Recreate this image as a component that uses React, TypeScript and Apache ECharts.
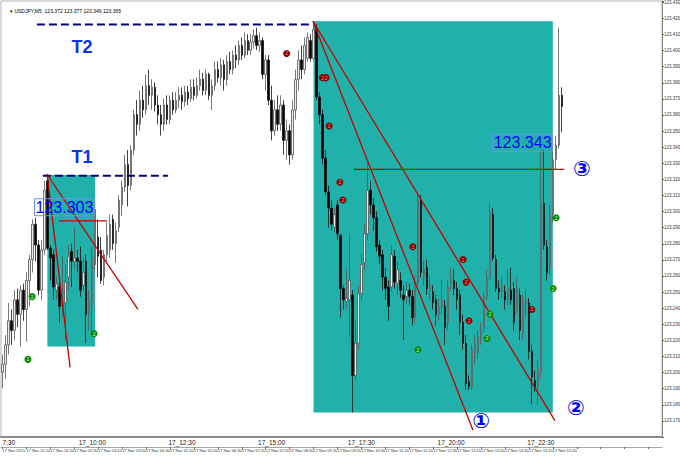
import React, { useEffect, useRef } from 'react';
import * as echarts from 'echarts';

const SLOTS = 221;
const Y_MIN = 123.1598;
const Y_MAX = 123.4306;

const header = '\u25BE USDJPY,M5  123.372 123.377 123.349 123.365';
const lastClose = 123.365;

const bigTimeLabels = ['7:30', '17_10:00', '17_12:30', '17_15:00', '17_17:30', '17_20:00', '17_22:30'];
const smallTimeLabels = [
  '17 Nov 2015', '17 Nov 01:10', '17 Nov 01:50', '17 Nov 02:30', '17 Nov 03:10', '17 Nov 03:50',
  '17 Nov 04:30', '17 Nov 05:10', '17 Nov 05:50', '17 Nov 06:30', '17 Nov 07:10', '17 Nov 07:50',
  '17 Nov 08:30', '17 Nov 09:10', '17 Nov 09:50', '17 Nov 10:30', '17 Nov 11:10', '17 Nov 11:50',
  '17 Nov 12:30', '17 Nov 13:10', '17 Nov 13:50', '17 Nov 14:30', '17 Nov 15:10', '17 Nov 15:50',
];

// [open, close, low, high]
const candles: number[][] = [
  [123.200, 123.205, 123.190, 123.211], [123.205, 123.217, 123.196, 123.223], [123.217, 123.232, 123.211, 123.243],
  [123.232, 123.226, 123.217, 123.239], [123.226, 123.245, 123.220, 123.251], [123.245, 123.236, 123.228, 123.252],
  [123.236, 123.251, 123.216, 123.254], [123.251, 123.239, 123.232, 123.255], [123.239, 123.257, 123.219, 123.262],
  [123.257, 123.270, 123.241, 123.273], [123.270, 123.292, 123.262, 123.295], [123.292, 123.279, 123.269, 123.296],
  [123.279, 123.251, 123.248, 123.282], [123.251, 123.276, 123.245, 123.282], [123.276, 123.313, 123.273, 123.319],
  [123.319, 123.277, 123.276, 123.323], [123.277, 123.271, 123.257, 123.279], [123.273, 123.253, 123.245, 123.276],
  [123.251, 123.255, 123.245, 123.259], [123.253, 123.241, 123.231, 123.257], [123.241, 123.244, 123.234, 123.272],
  [123.243, 123.256, 123.220, 123.267], [123.259, 123.272, 123.251, 123.279], [123.275, 123.269, 123.253, 123.280],
  [123.269, 123.271, 123.264, 123.290], [123.271, 123.269, 123.262, 123.276], [123.269, 123.251, 123.247, 123.278],
  [123.254, 123.262, 123.251, 123.271], [123.269, 123.236, 123.218, 123.273], [123.236, 123.245, 123.226, 123.251],
  [123.241, 123.271, 123.222, 123.278], [123.267, 123.301, 123.264, 123.304], [123.284, 123.272, 123.259, 123.295],
  [123.276, 123.257, 123.255, 123.284], [123.259, 123.273, 123.254, 123.276], [123.273, 123.285, 123.269, 123.293],
  [123.276, 123.292, 123.271, 123.298], [123.295, 123.280, 123.276, 123.298], [123.280, 123.288, 123.268, 123.293],
  [123.290, 123.307, 123.287, 123.310], [123.304, 123.315, 123.297, 123.319], [123.315, 123.329, 123.312, 123.335],
  [123.329, 123.316, 123.303, 123.338], [123.316, 123.338, 123.313, 123.341], [123.338, 123.360, 123.335, 123.363],
  [123.360, 123.354, 123.347, 123.369], [123.354, 123.369, 123.350, 123.375], [123.369, 123.363, 123.358, 123.378],
  [123.363, 123.378, 123.360, 123.385], [123.378, 123.372, 123.366, 123.388], [123.372, 123.377, 123.363, 123.382],
  [123.377, 123.366, 123.362, 123.380], [123.366, 123.360, 123.354, 123.372], [123.360, 123.354, 123.347, 123.366],
  [123.354, 123.366, 123.350, 123.370], [123.366, 123.357, 123.354, 123.372], [123.357, 123.369, 123.354, 123.372],
  [123.369, 123.363, 123.360, 123.374], [123.363, 123.369, 123.361, 123.374], [123.369, 123.372, 123.364, 123.377],
  [123.372, 123.368, 123.363, 123.377], [123.368, 123.374, 123.365, 123.378], [123.374, 123.370, 123.366, 123.378],
  [123.370, 123.377, 123.368, 123.382], [123.377, 123.372, 123.369, 123.382], [123.372, 123.378, 123.370, 123.383],
  [123.378, 123.382, 123.375, 123.388], [123.382, 123.375, 123.372, 123.386], [123.375, 123.385, 123.372, 123.388],
  [123.385, 123.372, 123.369, 123.386], [123.372, 123.378, 123.363, 123.382], [123.378, 123.388, 123.375, 123.393],
  [123.388, 123.383, 123.380, 123.393], [123.383, 123.391, 123.378, 123.395], [123.391, 123.382, 123.375, 123.394],
  [123.382, 123.393, 123.378, 123.397], [123.393, 123.388, 123.385, 123.399], [123.388, 123.397, 123.385, 123.400],
  [123.397, 123.394, 123.389, 123.403], [123.394, 123.403, 123.391, 123.406], [123.403, 123.397, 123.394, 123.408],
  [123.397, 123.406, 123.395, 123.411], [123.406, 123.400, 123.397, 123.410], [123.400, 123.405, 123.397, 123.410],
  [123.405, 123.409, 123.401, 123.413], [123.409, 123.403, 123.400, 123.414], [123.403, 123.406, 123.399, 123.411],
  [123.406, 123.385, 123.382, 123.408], [123.385, 123.394, 123.375, 123.397], [123.394, 123.369, 123.366, 123.397],
  [123.369, 123.350, 123.344, 123.378], [123.350, 123.363, 123.347, 123.369], [123.363, 123.354, 123.350, 123.372],
  [123.354, 123.366, 123.350, 123.372], [123.366, 123.344, 123.335, 123.369], [123.344, 123.350, 123.332, 123.357],
  [123.350, 123.335, 123.329, 123.354], [123.335, 123.363, 123.332, 123.369], [123.363, 123.382, 123.357, 123.388],
  [123.382, 123.394, 123.375, 123.400], [123.394, 123.388, 123.382, 123.403], [123.388, 123.403, 123.385, 123.408],
  [123.395, 123.408, 123.393, 123.411], [123.406, 123.395, 123.393, 123.410], [123.395, 123.413, 123.394, 123.418],
  [123.413, 123.371, 123.369, 123.416], [123.371, 123.360, 123.354, 123.374], [123.360, 123.333, 123.329, 123.363],
  [123.333, 123.312, 123.310, 123.338], [123.312, 123.302, 123.290, 123.316], [123.302, 123.292, 123.288, 123.307],
  [123.290, 123.298, 123.287, 123.302], [123.304, 123.286, 123.282, 123.307], [123.285, 123.252, 123.234, 123.286],
  [123.252, 123.245, 123.239, 123.254], [123.244, 123.246, 123.239, 123.264], [123.245, 123.257, 123.222, 123.286],
  [123.248, 123.198, 123.175, 123.251], [123.198, 123.218, 123.195, 123.232], [123.218, 123.249, 123.214, 123.254],
  [123.249, 123.267, 123.245, 123.273], [123.268, 123.286, 123.264, 123.292], [123.286, 123.313, 123.282, 123.330],
  [123.313, 123.304, 123.298, 123.319], [123.304, 123.296, 123.288, 123.308], [123.296, 123.278, 123.275, 123.300],
  [123.279, 123.272, 123.267, 123.282], [123.273, 123.259, 123.251, 123.276], [123.259, 123.252, 123.245, 123.265],
  [123.253, 123.241, 123.232, 123.257], [123.253, 123.273, 123.250, 123.279], [123.272, 123.256, 123.252, 123.276],
  [123.255, 123.264, 123.248, 123.269], [123.257, 123.251, 123.246, 123.262], [123.248, 123.245, 123.220, 123.254],
  [123.247, 123.251, 123.242, 123.256], [123.251, 123.247, 123.242, 123.255], [123.247, 123.234, 123.229, 123.251],
  [123.234, 123.256, 123.231, 123.260], [123.256, 123.307, 123.254, 123.310], [123.307, 123.262, 123.259, 123.310],
  [123.259, 123.264, 123.254, 123.269], [123.265, 123.252, 123.248, 123.270], [123.251, 123.255, 123.245, 123.260],
  [123.250, 123.243, 123.239, 123.254], [123.245, 123.236, 123.229, 123.248], [123.236, 123.241, 123.232, 123.246],
  [123.241, 123.245, 123.236, 123.257], [123.241, 123.228, 123.217, 123.245], [123.231, 123.253, 123.226, 123.257],
  [123.255, 123.259, 123.251, 123.265], [123.257, 123.252, 123.248, 123.264], [123.252, 123.245, 123.239, 123.256],
  [123.248, 123.231, 123.223, 123.251], [123.231, 123.218, 123.214, 123.236], [123.218, 123.193, 123.189, 123.223],
  [123.194, 123.191, 123.189, 123.198], [123.191, 123.214, 123.189, 123.217], [123.212, 123.218, 123.205, 123.223],
  [123.212, 123.222, 123.208, 123.226], [123.221, 123.226, 123.217, 123.231], [123.228, 123.247, 123.225, 123.250],
  [123.247, 123.259, 123.245, 123.264], [123.259, 123.300, 123.257, 123.305], [123.298, 123.271, 123.269, 123.302],
  [123.270, 123.252, 123.250, 123.273], [123.252, 123.250, 123.245, 123.257], [123.250, 123.254, 123.246, 123.259],
  [123.250, 123.245, 123.239, 123.254], [123.245, 123.252, 123.242, 123.264], [123.251, 123.245, 123.242, 123.265],
  [123.252, 123.231, 123.226, 123.256], [123.239, 123.252, 123.236, 123.259], [123.248, 123.226, 123.220, 123.252],
  [123.224, 123.245, 123.220, 123.248], [123.242, 123.245, 123.234, 123.251], [123.243, 123.213, 123.208, 123.246],
  [123.213, 123.197, 123.180, 123.217], [123.195, 123.191, 123.188, 123.201], [123.191, 123.203, 123.180, 123.208],
  [123.200, 123.305, 123.196, 123.338], [123.305, 123.279, 123.276, 123.338], [123.278, 123.262, 123.257, 123.282],
  [123.264, 123.298, 123.260, 123.304], [123.298, 123.332, 123.293, 123.338], [123.332, 123.341, 123.326, 123.347],
  [123.341, 123.372, 123.339, 123.414], [123.372, 123.365, 123.349, 123.377],
];

// annotation geometry in [bar index, price]
const tealBoxes = [
  [[15, 123.3225], [31, 123.216]],
  [[104, 123.418], [184, 123.175]],
];
const redTrendLines = [
  [[14.9, 123.323], [22.6, 123.203]],
  [[14.9, 123.323], [45.3, 123.239]],
  [[103.8, 123.418], [157.3, 123.164]],
  [[103.8, 123.418], [184.7, 123.170]],
  [[18.9, 123.294], [34.9, 123.294]],
  [[117.5, 123.326], [187.7, 123.326]],
];
const navyLevels = [
  [[11.5, 123.416], [103.8, 123.416]],
  [[13.5, 123.322], [55.3, 123.322]],
];
const redMarkers = [
  [95, 123.398], [107, 123.383], [108.2, 123.383], [109.2, 123.353], [112.8, 123.318], [113.8, 123.307],
  [137.2, 123.278], [154, 123.270], [155, 123.256], [156, 123.232], [177, 123.239],
];
const greenMarkers = [
  [9.9, 123.247], [8.5, 123.208], [30.6, 123.224], [138.9, 123.214], [162, 123.221], [163, 123.236],
  [185.1, 123.296], [184.1, 123.252],
];
const levelTitles = [
  { pos: [26.6, 123.402], text: 'T2' },
  { pos: [26.6, 123.334], text: 'T1' },
];
const priceTags = [
  { pos: [20.7, 123.3025], text: '123.303' },
  { pos: [173.9, 123.3425], text: '123.343' },
];
const waveNumbers = [
  { pos: [160.0, 123.170], text: '\u2460' },
  { pos: [191.7, 123.178], text: '\u2461' },
  { pos: [193.7, 123.326], text: '\u2462' },
];

const FONT = '"Liberation Sans", Arial, sans-serif';

export default function App() {
  const ref = useRef<HTMLDivElement>(null);
  useEffect(() => {
    const chart = echarts.init(ref.current!, undefined, { renderer: 'svg' });
    const cats = Array.from({ length: SLOTS }, (_, i) => String(i));
    const textSeries = (items: any[], label: any) => ({
      type: 'scatter', xAxisIndex: 1, yAxisIndex: 0, symbol: 'circle', symbolSize: 1,
      itemStyle: { color: 'rgba(0,0,0,0)', opacity: 1 }, z: 8, silent: true,
      data: items.map((t) => ({ value: t.pos, name: t.text })),
      label: { show: true, position: 'inside', formatter: (p: any) => p.name, fontFamily: FONT, opacity: 1, ...label },
    });
    const option: any = {
      animation: false,
      title: {
        text: header, left: 5, top: 3,
        textStyle: { fontSize: 5, fontWeight: 'normal', color: '#000', fontFamily: FONT },
      },
      grid: {
        left: 1, right: 18, top: 1, bottom: 19, show: true, borderColor: '#b4b4b4', borderWidth: 1,
        outerBoundsMode: 'none', containLabel: false,
      },
      xAxis: [
        {
          type: 'category', data: cats, gridIndex: 0, boundaryGap: true,
          axisLine: { show: true, lineStyle: { color: '#8c8c8c', width: 2 } },
          axisTick: { show: false },
          splitLine: { show: false },
          axisLabel: {
            interval: (i: number) => i % 30 === 0,
            formatter: (_v: string, i: number) => bigTimeLabels[i / 30] ?? '',
            alignMinLabel: 'left',
            fontSize: 6.5, color: '#222', margin: 2, fontFamily: FONT,
          },
        },
        { type: 'value', min: -0.5, max: SLOTS - 0.5, show: false, gridIndex: 0 },
        {
          type: 'category', data: cats, gridIndex: 0, boundaryGap: true, position: 'bottom', offset: 10,
          axisLine: { show: true, lineStyle: { color: '#a8a8a8', width: 1 } },
          axisTick: { show: true, interval: (i: number) => i % 8 === 0, length: 2, alignWithLabel: true, lineStyle: { color: '#666' } },
          splitLine: { show: false },
          axisLabel: {
            interval: (i: number) => i % 8 === 0,
            formatter: (_v: string, i: number) => smallTimeLabels[i / 8] ?? '',
            fontSize: 4, color: '#333', margin: 1, align: 'left', fontFamily: FONT,
          },
        },
      ],
      yAxis: [
        { type: 'value', min: Y_MIN, max: Y_MAX, show: false, gridIndex: 0, splitLine: { show: false } },
        {
          type: 'value', min: Y_MIN + 0.005, max: Y_MAX + 0.005, interval: 0.01, position: 'right', gridIndex: 0,
          splitLine: { show: false },
          axisLine: { show: true, lineStyle: { color: '#8c8c8c' } },
          axisTick: { show: true, length: 2, lineStyle: { color: '#666' } },
          axisLabel: {
            fontSize: 4.5, color: '#333', margin: 2, fontFamily: FONT,
            formatter: (v: number) => {
              const r = v - 0.005;
              if (r < 123.16 || r > 123.43) return '';
              return r.toFixed(3);
            },
          },
        },
      ],
      series: [
        {
          type: 'line', xAxisIndex: 1, yAxisIndex: 0, data: [], z: 1, silent: true,
          markArea: {
            silent: true,
            itemStyle: { color: '#20b2aa', opacity: 1 },
            data: tealBoxes.map((b) => [{ coord: b[0] }, { coord: b[1] }]),
          },
        },
        {
          type: 'candlestick', xAxisIndex: 0, yAxisIndex: 0, data: candles, z: 3, barWidth: 2,
          itemStyle: { color: '#ececec', color0: '#000000', borderColor: '#555555', borderColor0: '#111111', borderWidth: 0.8 },
          markLine: {
            silent: true, symbol: 'none',
            data: [{ yAxis: lastClose }],
            lineStyle: { opacity: 0 },
            label: {
              show: true, position: 'end', formatter: lastClose.toFixed(3), distance: 1,
              backgroundColor: '#000', color: '#fff', fontSize: 4.5, padding: [1, 2, 1, 2], fontFamily: FONT,
            },
          },
        },
        ...navyLevels.map((seg) => ({
          type: 'line', xAxisIndex: 1, yAxisIndex: 0, data: seg, symbol: 'none', silent: true, z: 5,
          lineStyle: { color: '#00007a', width: 2, type: 'dashed' },
        })),
        ...redTrendLines.map((seg) => ({
          type: 'line', xAxisIndex: 1, yAxisIndex: 0, data: seg, symbol: 'none', silent: true, z: 5,
          lineStyle: { color: '#c40000', width: 1.3 },
        })),
        {
          type: 'scatter', xAxisIndex: 1, yAxisIndex: 0, data: redMarkers, symbolSize: 7, z: 6, silent: true,
          itemStyle: { color: '#8b0000', opacity: 1 },
          label: { show: true, position: 'inside', formatter: '2', fontSize: 5, color: '#ff8c8c', fontFamily: FONT },
        },
        {
          type: 'scatter', xAxisIndex: 1, yAxisIndex: 0, data: greenMarkers, symbolSize: 7, z: 6, silent: true,
          itemStyle: { color: '#0a8a0a', opacity: 1 },
          label: { show: true, position: 'inside', formatter: '2', fontSize: 5, color: '#b8ffb8', fontFamily: FONT },
        },
        textSeries(levelTitles, { fontSize: 18, fontWeight: 'bold', color: '#0a32e6' }),
        textSeries(priceTags, {
          fontSize: 16, color: '#0000ff', borderColor: '#6f8fff', borderWidth: 1, padding: [1, 1, 0, 1],
        }),
        textSeries(waveNumbers, { fontSize: 21, fontWeight: 'bold', color: '#0000ee', fontFamily: '"DejaVu Sans", sans-serif' }),
      ],
    };
    chart.setOption(option);
    return () => chart.dispose();
  }, []);
  return <div ref={ref} style={{ position: 'fixed', left: 0, top: 0, width: 680, height: 456, background: '#fff' }} />;
}
